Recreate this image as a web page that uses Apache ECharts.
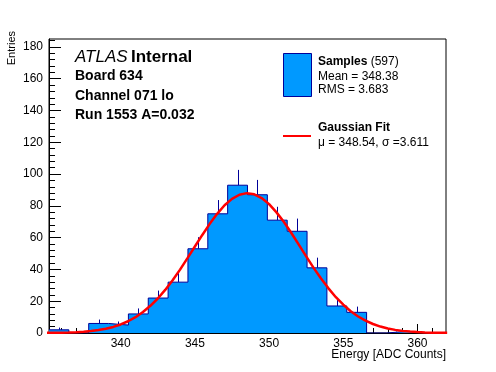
<!DOCTYPE html>
<html>
<head>
<meta charset="utf-8">
<script src="https://cdn.jsdelivr.net/npm/echarts@6/dist/echarts.min.js"></script>
<style>
html,body{margin:0;padding:0;background:#fff;}
#c{width:496px;height:372px;}
</style>
</head>
<body>
<div id="c"></div>
<script>
// ---- data ----
const histLow = 335.17;
const histHigh = 361.92;
const counts = [2, 0, 6, 5, 12, 22, 32, 53, 75, 93, 87, 71, 64, 41, 17, 13, 0, 1, 0, 0];
const fitX = [335, 335.5, 336, 336.5, 337, 337.5, 338, 338.5, 339, 339.5, 340, 340.5, 341, 341.5, 342, 342.5, 343, 343.5, 344, 344.5, 345, 345.5, 346, 346.5, 347, 347.5, 348, 348.5, 349, 349.5, 350, 350.5, 351, 351.5, 352, 352.5, 353, 353.5, 354, 354.5, 355, 355.5, 356, 356.5, 357, 357.5, 358, 358.5, 359, 359.5, 360, 360.5, 361, 361.5, 362];
const fitY = [0.08, 0.13, 0.21, 0.34, 0.53, 0.82, 1.24, 1.84, 2.68, 3.83, 5.37, 7.38, 9.94, 13.2, 17.1, 21.7, 27.1, 33.2, 39.9, 47.1, 54.4, 61.7, 68.7, 75.0, 80.4, 84.4, 87.0, 88.0, 87.3, 84.9, 81.1, 75.9, 69.8, 62.9, 55.6, 48.2, 41.0, 34.3, 28.1, 22.5, 17.8, 13.7, 10.4, 7.75, 5.66, 4.05, 2.85, 1.96, 1.33, 0.88, 0.57, 0.37, 0.23, 0.14, 0.08];
const xMajorTicks = [340, 345, 350, 355, 360];
const xMinorTicks = [336, 337, 338, 339, 341, 342, 343, 344, 346, 347, 348, 349, 351, 352, 353, 354, 356, 357, 358, 359, 361];
const yMajorTicks = [0, 20, 40, 60, 80, 100, 120, 140, 160, 180];
const yMinorTicks = [];
for (let v = 4; v <= 184; v += 4) if (v % 20 !== 0) yMinorTicks.push(v);
const yMax = 185;

// ---- derived ----
const nBins = counts.length;
const bw = (histHigh - histLow) / nBins;
const stepData = counts.map((c, i) => [histLow + i * bw, c]);
stepData.push([histHigh, counts[nBins - 1]]);
const errData = counts.map((c, i) => [histLow + (i + 0.5) * bw, c, Math.sqrt(c)]).filter(d => d[1] > 0);
const fitData = fitX.map((x, i) => [x, fitY[i]]);

const FONT = "'Liberation Sans', Arial, Helvetica, sans-serif";
const FILL = '#0099ff';
const NAVY = '#000099';

const chart = echarts.init(document.getElementById('c'), null, {renderer: 'canvas'});
const option = {
  animation: false,
  backgroundColor: '#fff',
  textStyle: {fontFamily: FONT},
  grid: {left: 49, top: 39, width: 397, height: 294, show: true, borderColor: '#000', borderWidth: 1, backgroundColor: 'transparent'},
  xAxis: [
    {type: 'value', min: histLow, max: histHigh, position: 'bottom',
     axisLine: {show: true, lineStyle: {color: '#000', width: 1}},
     axisTick: {show: true, inside: true, length: 5, customValues: xMinorTicks, lineStyle: {color: '#000'}},
     axisLabel: {show: false}, splitLine: {show: false}},
    {type: 'value', min: histLow, max: histHigh, position: 'bottom',
     axisLine: {show: false},
     axisTick: {show: true, inside: true, length: 9, customValues: xMajorTicks, lineStyle: {color: '#000'}},
     axisLabel: {show: true, customValues: xMajorTicks, color: '#000', fontSize: 12, fontFamily: FONT, margin: 5},
     splitLine: {show: false}}
  ],
  yAxis: [
    {type: 'value', min: 0, max: yMax, position: 'left',
     axisLine: {show: true, lineStyle: {color: '#000', width: 1}},
     axisTick: {show: true, inside: true, length: 6, customValues: yMinorTicks, lineStyle: {color: '#000'}},
     axisLabel: {show: false}, splitLine: {show: false}},
    {type: 'value', min: 0, max: yMax, position: 'left',
     axisLine: {show: false},
     axisTick: {show: true, inside: true, length: 12, customValues: yMajorTicks, lineStyle: {color: '#000'}},
     axisLabel: {show: true, customValues: yMajorTicks, color: '#000', fontSize: 12, fontFamily: FONT, margin: 6},
     splitLine: {show: false}}
  ],
  series: [
    {type: 'custom', xAxisIndex: 0, yAxisIndex: 0, z: 1, data: errData,
     renderItem: function (params, api) {
       const p0 = api.coord([api.value(0), api.value(1)]);
       const p1 = api.coord([api.value(0), api.value(1) + api.value(2)]);
       const x = Math.round(p0[0]) + 0.5;
       return {type: 'line', shape: {x1: x, y1: p0[1], x2: x, y2: p1[1]}, style: {stroke: NAVY, lineWidth: 1}};
     }},
    {type: 'line', xAxisIndex: 0, yAxisIndex: 0, z: 2, step: 'end', data: stepData, symbol: 'none',
     lineStyle: {color: NAVY, width: 1}, areaStyle: {color: FILL, opacity: 1}},
    {type: 'line', xAxisIndex: 0, yAxisIndex: 0, z: 3, data: fitData, symbol: 'none', smooth: false,
     lineStyle: {color: '#ff0000', width: 2.5}}
  ],
  graphic: [
    {type: 'text', left: 75, top: 49, style: {text: '{i|ATLAS} {b|Internal}', rich: {
      i: {fontStyle: 'italic', fontSize: 17, fontFamily: FONT, fill: '#000'},
      b: {fontWeight: 'bold', fontSize: 17, fontFamily: FONT, fill: '#000'}}}},
    {type: 'text', left: 75, top: 69, style: {text: 'Board 634', font: "bold 14px " + FONT, fill: '#000'}},
    {type: 'text', left: 75, top: 89, style: {text: 'Channel 071 lo', font: "bold 14px " + FONT, fill: '#000'}},
    {type: 'text', left: 75, top: 108, style: {text: 'Run 1553 A=0.032', font: "bold 14px " + FONT, fill: '#000'}},
    {type: 'rect', shape: {x: 283.5, y: 53.5, width: 28, height: 43}, style: {fill: FILL, stroke: NAVY, lineWidth: 1}},
    {type: 'text', left: 318, top: 56, style: {text: '{b|Samples} (597)', font: "12px " + FONT, fill: '#000', rich: {
      b: {fontWeight: 'bold', fontSize: 12, fontFamily: FONT, fill: '#000'}}}},
    {type: 'text', left: 318, top: 71, style: {text: 'Mean = 348.38', font: "12px " + FONT, fill: '#000'}},
    {type: 'text', left: 318, top: 84, style: {text: 'RMS = 3.683', font: "12px " + FONT, fill: '#000'}},
    {type: 'line', shape: {x1: 283, y1: 136, x2: 311, y2: 136}, style: {stroke: '#ff0000', lineWidth: 2}},
    {type: 'text', left: 318, top: 122, style: {text: 'Gaussian Fit', font: "bold 12px " + FONT, fill: '#000'}},
    {type: 'text', left: 318, top: 137, style: {text: 'μ = 348.54, σ =3.611', font: "12px " + FONT, fill: '#000'}},
    {type: 'text', right: 50, top: 349, style: {text: 'Energy [ADC Counts]', font: "12px " + FONT, fill: '#000'}},
    {type: 'text', x: 12, y: 31, rotation: Math.PI / 2, style: {text: 'Entries', font: "11px " + FONT, fill: '#000', align: 'right', verticalAlign: 'middle'}}
  ]
};
chart.setOption(option);
</script>
</body>
</html>
